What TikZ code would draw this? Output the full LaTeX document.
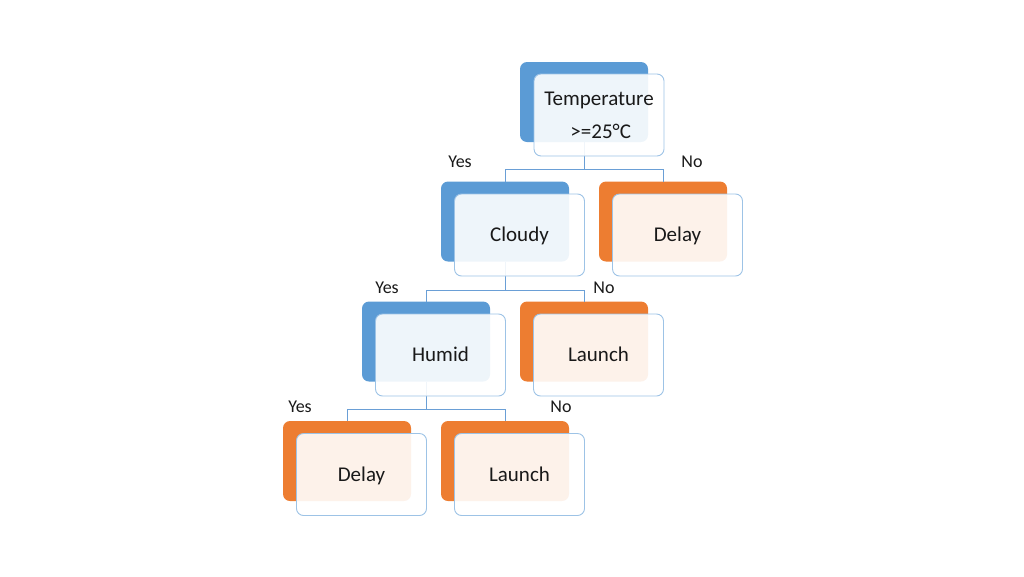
\documentclass[tikz,border=0pt]{standalone}
\usepackage{fontspec}
\setmainfont{Carlito}
\definecolor{bblue}{HTML}{5B9BD5}
\definecolor{borange}{HTML}{ED7D31}
\definecolor{fborder}{HTML}{9DC3E6}
\definecolor{conn}{HTML}{6A9FD6}
\begin{document}
\begin{tikzpicture}[x=1pt,y=-1pt,
  back/.style={rounded corners=7pt, minimum width=128pt, minimum height=80pt, inner sep=0pt, outer sep=0pt},
  bb/.style={back, fill=bblue},
  bo/.style={back, fill=borange},
  front/.style={rounded corners=7pt, minimum width=130pt, minimum height=82pt, inner sep=0pt, outer sep=0pt,
    draw=fborder, line width=0.9pt, fill=white, fill opacity=0.9, text opacity=1, text=black!90,
    font=\fontsize{21}{25}\selectfont, align=center},
  one/.style={text height=14pt, text depth=1pt},
  lbl/.style={font=\fontsize{18}{21}\selectfont, text=black!90, inner sep=0pt},
  cn/.style={draw=conn, line width=0.9pt}]
\useasboundingbox (0,0) rectangle (1024,576);
% back shapes
\node[bb] (tB) at (584,102) {};
\node[bb] (cB) at (505,221.5) {};
\node[bo] (d1B) at (663,221.5) {};
\node[bb] (hB) at (426,341.5) {};
\node[bo] (l1B) at (584,341.5) {};
\node[bo] (d2B) at (347,461) {};
\node[bo] (l2B) at (505,461) {};
% connectors
\coordinate (j1) at (584,169);
\coordinate (j2) at (505,290);
\coordinate (j3) at (426,409);
\draw[cn] (tB.south) -- (j1) -| (cB.north);
\draw[cn] (j1) -| (d1B.north);
\draw[cn] (cB.south) -- (j2) -| (hB.north);
\draw[cn] (j2) -| (l1B.north);
\draw[cn] (hB.south) -- (j3) -| (d2B.north);
\draw[cn] (j3) -| (l2B.north);
% front shapes
\node[front] (tF) at (599,115) {Temperature\\[8pt]\,>=25°C};
\node[front,one] (cF) at (519.5,235) {Cloudy};
\node[front,one] (d1F) at (677.5,235) {Delay};
\node[front,one] (hF) at (440.5,355) {Humid};
\node[front,one] (l1F) at (598.5,355) {Launch};
\node[front,one] (d2F) at (361.5,474.5) {Delay};
\node[front,one] (l2F) at (519.5,474.5) {Launch};
% labels
\node[lbl] (y1) at (460,162) {Yes};
\node[lbl] (n1) at (692,162) {No};
\node[lbl] (y2) at (387,288) {Yes};
\node[lbl] (n2) at (604,288) {No};
\node[lbl] (y3) at (300,407) {Yes};
\node[lbl] (n3) at (561,407) {No};
\end{tikzpicture}
\end{document}
